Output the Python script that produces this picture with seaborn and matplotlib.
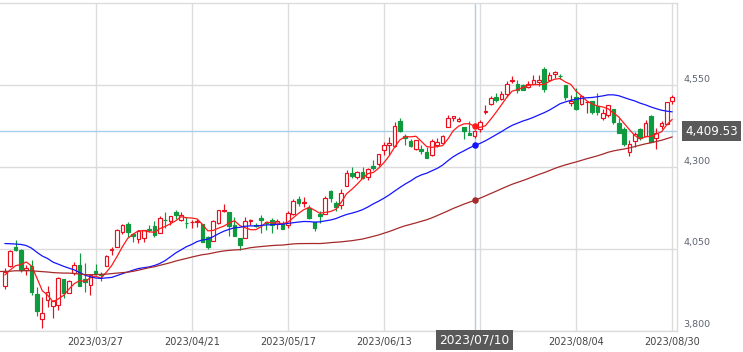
import matplotlib
matplotlib.use("Agg")
import matplotlib.pyplot as plt
import seaborn as sns
import pandas as pd
import numpy as np

# closes before the first visible candle (only used to warm up the moving averages)
prior_close = [3956.37, 3992.93,
               3957.25, 3991.73, 3958.79, 3946.56, 3965.34, 3949.94, 4003.58, 4027.26, 4026.12, 3963.94, 3957.63, 4080.11,
               4076.57, 4071.70, 3998.84, 3941.26, 3933.92, 3963.51, 3934.38, 3990.56, 4019.65, 3995.32, 3895.75, 3852.36,
               3817.66, 3821.62, 3878.44, 3822.39, 3844.82, 3829.25, 3783.22, 3849.28, 3839.50,
               3824.14, 3852.97, 3808.10, 3895.08, 3892.09, 3919.25, 3969.61, 3983.17, 3999.09, 3990.97, 3928.86, 3898.85,
               3972.61, 4019.81, 4016.95, 4016.22, 4060.43, 4070.56, 4017.77, 4076.60,
               4119.21, 4179.76, 4136.48, 4111.08, 4164.00, 4117.86, 4081.50, 4090.46, 4137.29, 4136.13, 4147.60, 4090.41,
               4079.09, 3997.34, 3991.05, 4012.32, 3970.04, 3982.24, 3970.15,
               3951.39]

# visible candles, 2023/03/02 .. 2023/08/30
opens = [3938.68, 3998.02, 4055.15, 4048.26, 3987.55, 3998.66, 3912.77, 3835.12, 3894.01, 3876.74,
         3878.93, 3958.69, 3917.47, 3975.89, 4002.04, 3959.21, 3939.21, 3982.93, 3974.13, 3999.53,
         4046.74, 4056.18, 4102.20, 4128.03, 4094.50, 4081.15, 4085.20, 4110.29, 4121.72, 4100.04,
         4140.11, 4137.17, 4164.26, 4139.33, 4130.48, 4132.14, 4132.07, 4126.43, 4087.78, 4075.29,
         4129.63, 4166.79, 4164.10, 4122.25, 4082.61, 4084.73, 4136.98, 4124.25, 4143.74, 4132.24,
         4138.54, 4126.65, 4127.95, 4122.85, 4157.68, 4204.15, 4190.78, 4176.80, 4132.96, 4155.71,
         4156.16, 4226.71, 4190.74, 4183.03, 4241.01, 4282.99, 4271.34, 4285.47, 4268.69, 4304.88,
         4308.32, 4352.61, 4366.29, 4365.33, 4440.95, 4396.11, 4380.01, 4355.40, 4354.17, 4344.84,
         4337.36, 4367.48, 4374.94, 4422.44, 4450.48, 4442.04, 4422.62, 4404.54, 4394.23, 4415.55,
         4467.69, 4491.50, 4514.61, 4508.86, 4521.78, 4563.87, 4554.38, 4550.16, 4543.39, 4555.19,
         4558.96, 4598.26, 4565.75, 4584.82, 4578.83, 4550.93, 4494.27, 4513.96, 4491.58, 4498.03,
         4501.57, 4487.16, 4450.69, 4458.13, 4478.87, 4433.79, 4416.32, 4344.88, 4380.28, 4415.33,
         4396.44, 4455.16, 4389.38, 4426.03, 4432.75, 4500.34]
highs = [3990.84, 4048.29, 4078.49, 4050.00, 4000.41, 4017.81, 3934.05, 3905.05, 3937.29, 3894.26,
         3964.46, 3958.91, 3956.62, 4009.08, 4039.49, 4007.66, 3972.74, 4003.83, 3979.20, 4030.59,
         4057.85, 4110.75, 4127.66, 4133.13, 4099.69, 4107.32, 4109.50, 4124.26, 4134.37, 4150.26,
         4163.19, 4151.72, 4169.48, 4162.57, 4148.57, 4138.02, 4142.41, 4126.43, 4089.67, 4138.24,
         4170.06, 4186.92, 4164.10, 4148.30, 4082.61, 4147.02, 4142.30, 4130.35, 4154.28, 4132.80,
         4143.74, 4141.25, 4135.54, 4164.67, 4202.20, 4212.91, 4209.22, 4185.68, 4132.96, 4165.74,
         4212.87, 4231.10, 4195.44, 4232.43, 4290.67, 4299.28, 4288.33, 4299.19, 4298.01, 4322.62,
         4340.13, 4375.37, 4391.82, 4439.20, 4448.47, 4400.15, 4386.22, 4382.25, 4366.55, 4362.06,
         4384.42, 4390.35, 4398.39, 4458.48, 4456.46, 4454.06, 4422.62, 4440.39, 4412.60, 4443.64,
         4488.34, 4517.38, 4527.76, 4532.85, 4562.30, 4578.43, 4564.74, 4555.00, 4563.41, 4580.62,
         4582.47, 4607.07, 4590.16, 4594.22, 4584.62, 4550.93, 4519.49, 4540.34, 4519.84, 4503.31,
         4502.44, 4527.37, 4476.23, 4490.33, 4478.87, 4449.95, 4421.17, 4381.82, 4407.55, 4418.59,
         4443.18, 4458.30, 4418.46, 4439.56, 4500.14, 4521.65]
lows = [3928.16, 3995.17, 4044.61, 3980.31, 3969.76, 3908.70, 3846.32, 3808.86, 3873.63, 3838.24,
        3864.11, 3901.27, 3916.89, 3971.19, 3936.17, 3919.05, 3909.16, 3970.49, 3951.53, 3999.53,
        4032.10, 4056.18, 4094.70, 4086.87, 4072.56, 4069.84, 4072.55, 4102.61, 4086.94, 4099.40,
        4113.20, 4123.18, 4140.36, 4134.49, 4114.57, 4113.86, 4117.77, 4071.38, 4049.35, 4075.29,
        4127.18, 4164.12, 4089.72, 4088.86, 4048.28, 4084.73, 4123.81, 4116.65, 4098.92, 4109.29,
        4099.12, 4110.27, 4109.86, 4113.62, 4153.50, 4180.20, 4179.68, 4142.54, 4103.98, 4129.73,
        4156.16, 4192.18, 4166.15, 4171.64, 4241.01, 4266.82, 4263.09, 4263.96, 4261.07, 4291.70,
        4304.37, 4337.66, 4337.85, 4362.60, 4407.44, 4367.19, 4360.14, 4351.82, 4341.34, 4328.08,
        4335.00, 4360.22, 4371.97, 4422.44, 4442.29, 4436.61, 4385.05, 4397.40, 4389.92, 4408.46,
        4463.23, 4489.36, 4499.56, 4504.90, 4514.59, 4557.48, 4527.56, 4535.79, 4541.29, 4552.42,
        4547.58, 4528.56, 4564.01, 4573.14, 4567.53, 4505.75, 4485.54, 4474.55, 4491.15, 4464.39,
        4461.33, 4457.92, 4443.98, 4453.44, 4432.19, 4403.55, 4364.83, 4335.31, 4360.30, 4382.77,
        4396.44, 4375.55, 4356.29, 4414.98, 4431.68, 4493.59]
closes = [3981.35, 4045.64, 4048.42, 3986.37, 3992.01, 3918.32, 3861.59, 3855.76, 3919.29, 3891.93,
          3960.28, 3916.64, 3951.57, 4002.87, 3936.97, 3948.72, 3970.99, 3977.53, 3971.27, 4027.81,
          4050.83, 4109.31, 4124.51, 4100.60, 4090.38, 4105.02, 4109.11, 4108.94, 4091.95, 4146.22,
          4137.64, 4151.32, 4154.87, 4154.52, 4129.79, 4133.52, 4137.04, 4071.63, 4055.99, 4135.35,
          4169.48, 4167.87, 4119.58, 4090.75, 4061.22, 4136.25, 4138.12, 4119.17, 4137.64, 4130.62,
          4124.08, 4136.28, 4109.90, 4158.77, 4198.05, 4191.98, 4192.63, 4145.58, 4115.24, 4151.28,
          4205.45, 4205.52, 4179.83, 4221.02, 4282.37, 4273.79, 4283.85, 4267.52, 4293.93, 4298.86,
          4338.93, 4369.01, 4372.59, 4425.84, 4409.59, 4388.71, 4365.69, 4381.89, 4348.33, 4328.82,
          4378.41, 4376.86, 4396.44, 4450.38, 4455.59, 4446.82, 4411.59, 4398.95, 4409.53, 4439.26,
          4472.16, 4510.04, 4505.42, 4522.79, 4554.98, 4565.72, 4534.87, 4536.34, 4554.64, 4567.46,
          4566.75, 4537.41, 4582.23, 4588.96, 4576.73, 4513.39, 4501.89, 4478.03, 4518.44, 4499.38,
          4467.71, 4468.83, 4464.05, 4489.72, 4437.86, 4404.33, 4370.36, 4369.71, 4399.77, 4387.55,
          4436.01, 4376.31, 4405.71, 4433.31, 4497.63, 4514.87]

holidays = ['2023-04-07', '2023-05-29', '2023-06-19', '2023-07-04']
dates = pd.bdate_range('2023-03-02', '2023-08-30', freq='C', holidays=holidays)

ma_windows = [5, 25, 75]
ma_colors = ['#ff1a1a', '#1414ff', '#a52a2a']
ma_start = [0, 0, -1]  # first candle index each line is drawn from
y_ticks = [3800, 4050, 4300, 4550]
tick_idx = [17, 35, 53, 71, 89, 107, 125]
cross_idx = 88

up_col = '#e8101e'
down_col = '#109a40'
grid_col = '#dcdcdc'
cross_col = '#a9d0ea'

# moving averages of the close, starting one candle before the first visible one
n_prior = len(prior_close)
all_close = pd.Series(prior_close + closes)
x_ma = np.arange(-1, len(closes))
ma = {w: all_close.rolling(w).mean().to_numpy()[n_prior - 1:] for w in ma_windows}

sns.set_style("white")
plt.rcParams['font.family'] = ['DejaVu Sans']

fig = plt.figure(figsize=(7.43, 3.52), dpi=100)
ax = fig.add_axes([0, 21 / 352, 677 / 743, 327.7 / 352])

o = np.array(opens)
h = np.array(highs)
l = np.array(lows)
c = np.array(closes)
x = np.arange(len(c))
up = c >= o

# wicks
ax.vlines(x[up], l[up], h[up], color=up_col, lw=0.85, zorder=2)
ax.vlines(x[~up], l[~up], h[~up], color=down_col, lw=0.85, zorder=2)
# bodies: hollow red for up, filled green for down
body_lo = np.minimum(o, c)
body_h = np.maximum(np.abs(c - o), 0.6)
ax.bar(x[up], body_h[up], bottom=body_lo[up], width=0.68, color='white',
       edgecolor=up_col, linewidth=0.85, zorder=3)
ax.bar(x[~up], body_h[~up], bottom=body_lo[~up], width=0.68, color=down_col,
       edgecolor=down_col, linewidth=0.85, zorder=3)

for w, col, s in zip(ma_windows, ma_colors, ma_start):
    keep = x_ma >= s
    sns.lineplot(x=x_ma[keep], y=ma[w][keep], color=col, lw=0.9, ax=ax, zorder=4)

ax.set_xlim(-0.92, 125.9)
ax.set_ylim(3800, 4800)

# grid
ax.set_xticks(tick_idx)
ax.set_yticks(y_ticks)
ax.grid(True, color=grid_col, lw=1)
ax.set_axisbelow(True)
ax.tick_params(length=0)
ax.set_yticklabels([])
ax.set_xticklabels([dates[i].strftime('%Y/%m/%d') if i != 89 else '' for i in tick_idx],
                   fontsize=7, color='#444444')
ax.tick_params(axis='x', pad=4)
for side in ['top', 'right', 'bottom']:
    ax.spines[side].set_color(grid_col)
    ax.spines[side].set_linewidth(1)
ax.spines['left'].set_visible(False)

# price labels on the right, sitting above the grid lines
ytr = ax.get_yaxis_transform()
for v in y_ticks:
    ax.text(1.009, v + 5, f'{v:,}', transform=ytr, ha='left', va='bottom',
            fontsize=6.8, color='#5b6272', clip_on=False)

# crosshair on 2023/07/10
ax.axvline(cross_idx, color=cross_col, lw=1, zorder=1.5)
ax.axhline(closes[cross_idx], color=cross_col, lw=1, zorder=1.5)
for w, col in zip(ma_windows, ma_colors):
    ax.scatter([cross_idx], [ma[w][cross_idx + 1]], s=22, color=col, zorder=6, linewidths=0)

xtr = ax.get_xaxis_transform()
ax.text(cross_idx, -0.028, dates[cross_idx].strftime('%Y/%m/%d'), transform=xtr,
        ha='center', va='center', fontsize=8.8, color='white', clip_on=False,
        bbox=dict(boxstyle='square,pad=0.3', fc='#595959', ec='none'))
ax.text(1.012, closes[cross_idx], f'{closes[cross_idx]:,.2f}', transform=ytr,
        ha='left', va='center', fontsize=8.6, color='white', clip_on=False,
        bbox=dict(boxstyle='square,pad=0.3', fc='#595959', ec='none'))

ax.set_xlabel('')
ax.set_ylabel('')
fig.savefig('out.png', dpi=100)
